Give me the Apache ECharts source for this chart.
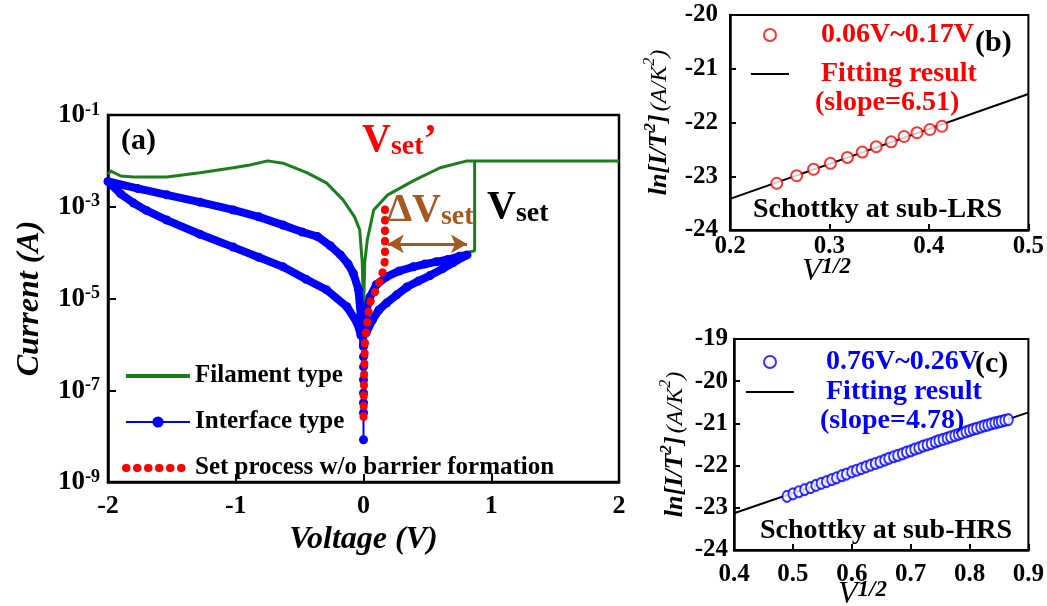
<!DOCTYPE html>
<html>
<head>
<meta charset="utf-8">
<script src="https://cdn.jsdelivr.net/npm/echarts@6/dist/echarts.min.js"></script>
<style>
  html, body { margin: 0; padding: 0; background: #fff; }
  #chart { width: 1047px; height: 606px; }
</style>
</head>
<body>
<div id="chart"></div>
<script>
// ---- data (a): I-V curves, current as log10(I / A) ----
var filamentV =    [0.81, 0.87, 0.87, 2.0, 0.81, 0.6, 0.4, 0.19, 0.08, 0.03, 0.01, 0.0, -0.01, -0.03, -0.07, -0.16, -0.29, -0.44, -0.63, -0.75, -0.89, -1.02, -1.28, -1.54, -1.8, -1.9, -1.98, -2.0];
var filamentLogI = [-4.0, -3.96, -2.0, -2.0, -2.0, -2.15, -2.42, -2.74, -3.07, -3.72, -4.2, -5.3, -4.2, -3.5, -3.22, -2.85, -2.48, -2.26, -2.05, -2.0, -2.09, -2.15, -2.26, -2.35, -2.35, -2.33, -2.22, -2.3];

var interfaceV =    [0.02, 0.07, 0.12, 0.18, 0.26, 0.34, 0.43, 0.52, 0.62, 0.70, 0.81, 0.75, 0.66, 0.57, 0.48, 0.39, 0.28, 0.18, 0.1, 0.05, 0.02, 0.0,
                     -0.02, -0.05, -0.13, -0.29, -0.45, -0.63, -0.82, -1.02, -1.28, -1.54, -1.7, -1.8, -1.9, -2.0,
                     -1.77, -1.54, -1.28, -1.02, -0.82, -0.63, -0.48, -0.36, -0.26, -0.18, -0.12, -0.08, -0.04, -0.02, 0.0];
var interfaceLogI = [-5.75, -5.47, -5.25, -5.1, -4.92, -4.75, -4.62, -4.5, -4.35, -4.22, -4.05, -4.08, -4.15, -4.2, -4.25, -4.31, -4.4, -4.53, -4.7, -4.97, -5.3, -5.7,
                     -5.8, -5.53, -5.18, -4.81, -4.58, -4.31, -4.1, -3.88, -3.6, -3.29, -3.08, -2.92, -2.72, -2.45,
                     -2.6, -2.74, -2.9, -3.07, -3.22, -3.4, -3.55, -3.65, -3.85, -4.05, -4.25, -4.45, -4.8, -5.4, -6.0];
var tailV =    [0.0, 0.0, 0.0, 0.0, 0.0, 0.0, 0.0, 0.0, 0.0];
var tailLogI = [-8.08, -7.49, -7.27, -7.06, -6.77, -6.49, -6.27, -6.05, -5.8];

var setV =    [0.0, 0.005, 0.012, 0.027, 0.035, 0.05, 0.09, 0.13, 0.155, 0.168, 0.168];
var setLogI = [-7.58, -6.62, -5.86, -5.62, -5.36, -5.10, -4.86, -4.60, -4.38, -4.16, -2.90];

// ---- data (b): Schottky fit at sub-LRS ----
var lrsX = [0.247, 0.267, 0.284, 0.301, 0.318, 0.333, 0.347, 0.362, 0.375, 0.388, 0.401, 0.413];
var lrsY = [-23.13, -22.99, -22.87, -22.76, -22.65, -22.55, -22.45, -22.36, -22.26, -22.19, -22.13, -22.07];
var lrsFitX = [0.2, 0.5];
var lrsFitY = [-23.42, -21.47];

// ---- data (c): Schottky fit at sub-HRS ----
var hrsX = [0.490, 0.500, 0.510, 0.520, 0.530, 0.539, 0.548, 0.557, 0.566, 0.574, 0.583, 0.591, 0.600, 0.608, 0.616, 0.624, 0.632, 0.640,
            0.648, 0.656, 0.663, 0.671, 0.678, 0.686, 0.693, 0.700, 0.707, 0.714, 0.721, 0.728, 0.735, 0.742, 0.748, 0.755, 0.762, 0.768,
            0.775, 0.781, 0.787, 0.794, 0.800, 0.806, 0.812, 0.819, 0.825, 0.831, 0.837, 0.843, 0.849, 0.854, 0.860, 0.866];
var hrsY = [-22.73, -22.67, -22.62, -22.57, -22.52, -22.47, -22.42, -22.38, -22.33, -22.29, -22.24, -22.20, -22.15, -22.11, -22.07, -22.03, -21.99, -21.95,
            -21.91, -21.87, -21.83, -21.79, -21.76, -21.72, -21.68, -21.65, -21.61, -21.58, -21.54, -21.51, -21.48, -21.44, -21.41, -21.38, -21.35, -21.32,
            -21.29, -21.26, -21.23, -21.20, -21.17, -21.14, -21.12, -21.09, -21.06, -21.04, -21.01, -20.99, -20.97, -20.95, -20.93, -20.91];
var hrsFitX = [0.4, 0.9];
var hrsFitY = [-23.13, -20.74];

var FONT = "'Liberation Serif', 'Times New Roman', serif";
var RED = '#ff0000', BLUE = '#0000ff', GREEN = '#1b7d1b', BROWN = '#a5581f';

function pairs(xs, ys) {
  return xs.map(function (x, i) { return [x, ys[i]]; });
}

function axisBase(grid, min, max, interval, fontSize, margin) {
  return {
    type: 'value', gridIndex: grid, min: min, max: max, interval: interval,
    axisLine: { show: true, onZero: false, lineStyle: { color: '#000', width: 2.5 } },
    axisTick: { show: true, inside: true, length: 6, lineStyle: { color: '#000', width: 2 } },
    splitLine: { show: false },
    axisLabel: { color: '#000', fontFamily: FONT, fontWeight: 'bold', fontSize: fontSize, margin: margin }
  };
}

var lnName = '{a|ln[I/T}{as|2}{a|]} {c|(A/K}{cs|2}{c|)}';
var lnRich = {
  a: { fontFamily: FONT, fontSize: 26, fontWeight: 'bold', fontStyle: 'italic', color: '#000', lineHeight: 30, verticalAlign: 'bottom' },
  as: { fontFamily: FONT, fontSize: 17, fontWeight: 'bold', fontStyle: 'italic', color: '#000', lineHeight: 16, verticalAlign: 'top' },
  c: { fontFamily: FONT, fontSize: 24, fontStyle: 'italic', color: '#000', lineHeight: 30, verticalAlign: 'bottom' },
  cs: { fontFamily: FONT, fontSize: 16, fontStyle: 'italic', color: '#000', lineHeight: 16, verticalAlign: 'top' }
};

var xa = axisBase(0, -2, 2, 1, 26, 11);
xa.axisTick.length = 8;
xa.name = 'Voltage (V)';
xa.nameLocation = 'middle';
xa.nameGap = 29;
xa.nameTextStyle = { fontFamily: FONT, fontSize: 32, fontWeight: 'bold', fontStyle: 'italic', color: '#000' };

var ya = axisBase(0, -9, -1, 2, 26, 8);
ya.axisTick.length = 8;
ya.axisLabel.formatter = function (v) { return '{b|10}{s|' + v + '}'; };
ya.axisLabel.rich = {
  b: { fontFamily: FONT, fontWeight: 'bold', fontSize: 27, color: '#000', lineHeight: 28, verticalAlign: 'bottom' },
  s: { fontFamily: FONT, fontWeight: 'bold', fontSize: 18, color: '#000', lineHeight: 17, verticalAlign: 'top' }
};
ya.name = 'Current (A)';
ya.nameLocation = 'middle';
ya.nameRotate = 90;
ya.nameGap = 62;
ya.nameTextStyle = { fontFamily: FONT, fontSize: 32, fontWeight: 'bold', fontStyle: 'italic', color: '#000' };

var xb = axisBase(1, 0.2, 0.5, 0.1, 25, 4);
xb.axisLabel.formatter = function (v) { return v.toFixed(1); };
var yb = axisBase(1, -24, -20, 1, 25, 12);
yb.name = lnName;
yb.nameLocation = 'middle';
yb.nameRotate = 90;
yb.nameGap = 58;
yb.nameTextStyle = { rich: lnRich };

var xc = axisBase(2, 0.4, 0.9, 0.1, 25, 12);
xc.axisLabel.formatter = function (v) { return v.toFixed(1); };
var yc = axisBase(2, -24, -19, 1, 25, 6);
yc.name = lnName;
yc.nameLocation = 'middle';
yc.nameRotate = 90;
yc.nameGap = 46;
yc.nameTextStyle = { rich: lnRich };

function subText(left, top, color, big, sub, tail) {
  return {
    type: 'text', left: left, top: top, z: 100,
    style: {
      text: '{V|' + big + '}{s|' + sub + '}' + (tail ? '{V|' + tail + '}' : ''),
      rich: {
        V: { fontFamily: FONT, fontWeight: 'bold', fontSize: 40, fill: color, lineHeight: 44, verticalAlign: 'bottom' },
        s: { fontFamily: FONT, fontWeight: 'bold', fontSize: 28, fill: color, lineHeight: 8, verticalAlign: 'bottom' }
      }
    }
  };
}

function plainText(left, top, text, color, size) {
  return {
    type: 'text', left: left, top: top, z: 100,
    style: { text: text, fill: color, font: 'bold ' + size + 'px ' + FONT }
  };
}

function halfPower(left, top) {
  return {
    type: 'text', left: left, top: top, z: 100,
    style: {
      text: '{v|V}{s|1/2}',
      rich: {
        v: { fontFamily: FONT, fontStyle: 'italic', fontSize: 32, fill: '#000', lineHeight: 32, verticalAlign: 'bottom' },
        s: { fontFamily: FONT, fontStyle: 'italic', fontWeight: 'bold', fontSize: 23, fill: '#000', lineHeight: 22, verticalAlign: 'top' }
      }
    }
  };
}

function legendRich(color, size, pad) {
  return {
    rich: { t: { fontFamily: FONT, fontWeight: 'bold', fontSize: size, color: color, lineHeight: 28, padding: [0, 0, 0, pad] } }
  };
}

var noSymbol = { opacity: 0 };

var option = {
  animation: false,
  backgroundColor: '#fff',
  grid: [
    { left: 108, top: 115, width: 511, height: 367, show: true, borderColor: '#000', borderWidth: 2.5 },
    { left: 730, top: 15, width: 300, height: 215, show: true, borderColor: '#000', borderWidth: 2 },
    { left: 734, top: 339, width: 297, height: 211, show: true, borderColor: '#000', borderWidth: 2 }
  ],
  xAxis: [xa, xb, xc],
  yAxis: [ya, yb, yc],
  legend: [
    {
      orient: 'vertical', left: 117, top: 357, itemWidth: 64, itemHeight: 14, itemGap: 18,
      data: [
        { name: 'Filament type', lineStyle: { width: 4 }, itemStyle: noSymbol },
        { name: 'Interface type' },
        { name: 'Set process w/o barrier formation', lineStyle: { width: 8, type: [0.5, 10.5], cap: 'round' }, itemStyle: noSymbol }
      ],
      textStyle: { fontFamily: FONT, fontWeight: 'bold', fontSize: 25, color: '#000', lineHeight: 28 }
    },
    {
      orient: 'vertical', left: 745, top: 16, itemWidth: 38, itemHeight: 12, itemGap: 11,
      data: ['0.06V~0.17V', { name: 'Fitting result', itemStyle: noSymbol }],
      formatter: function (n) { return '{t|' + n + '}'; },
      textStyle: legendRich(RED, 28, 27)
    },
    {
      orient: 'vertical', left: 740, top: 343, itemWidth: 48, itemHeight: 12, itemGap: 2,
      data: ['0.76V~0.26V', { name: 'Fitting result', itemStyle: noSymbol }],
      formatter: function (n) { return '{t|' + n + '}'; },
      textStyle: legendRich(BLUE, 28, 27)
    }
  ],
  series: [
    {
      name: 'Filament type', type: 'line', xAxisIndex: 0, yAxisIndex: 0, z: 2,
      data: pairs(filamentV, filamentLogI), symbol: 'none',
      lineStyle: { color: GREEN, width: 3 }, itemStyle: { color: GREEN }
    },
    {
      name: 'Interface type', type: 'line', xAxisIndex: 0, yAxisIndex: 0, z: 3,
      data: pairs(tailV, tailLogI), symbol: 'circle', symbolSize: 9, showSymbol: true,
      lineStyle: { color: BLUE, width: 2 }, itemStyle: { color: BLUE }
    },
    {
      name: 'Interface type', type: 'line', xAxisIndex: 0, yAxisIndex: 0, z: 3,
      data: pairs(interfaceV, interfaceLogI), symbol: 'circle', symbolSize: 9, showSymbol: true,
      lineStyle: { color: BLUE, width: 8, join: 'round', cap: 'round' }, itemStyle: { color: BLUE }
    },
    {
      name: 'Set process w/o barrier formation', type: 'line', xAxisIndex: 0, yAxisIndex: 0, z: 4,
      data: pairs(setV, setLogI), symbol: 'none',
      lineStyle: { color: RED, width: 8, type: [0.5, 10], cap: 'round' }, itemStyle: { color: RED },
      markLine: {
        silent: true, symbol: ['arrow', 'arrow'], symbolSize: [14, 16],
        label: { show: false },
        lineStyle: { color: BROWN, width: 3, type: 'solid', cap: 'butt' },
        data: [[{ coord: [0.19, -3.81] }, { coord: [0.81, -3.81] }]]
      }
    },
    {
      name: 'Fitting result', type: 'line', xAxisIndex: 1, yAxisIndex: 1, z: 2,
      data: pairs(lrsFitX, lrsFitY), symbol: 'none',
      lineStyle: { color: '#000', width: 2 }, itemStyle: { color: '#000' }
    },
    {
      name: '0.06V~0.17V', type: 'scatter', xAxisIndex: 1, yAxisIndex: 1, z: 3,
      data: pairs(lrsX, lrsY), symbol: 'emptyCircle', symbolSize: 11,
      itemStyle: { color: RED, borderColor: RED, borderWidth: 1.5 }
    },
    {
      name: 'Fitting result', type: 'line', xAxisIndex: 2, yAxisIndex: 2, z: 2,
      data: pairs(hrsFitX, hrsFitY), symbol: 'none',
      lineStyle: { color: '#000', width: 2 }, itemStyle: { color: '#000' }
    },
    {
      name: '0.76V~0.26V', type: 'scatter', xAxisIndex: 2, yAxisIndex: 2, z: 3,
      data: pairs(hrsX, hrsY), symbol: 'emptyCircle', symbolSize: [9, 11],
      itemStyle: { color: BLUE, borderColor: BLUE, borderWidth: 1.5 }
    }
  ],
  graphic: [
    plainText(121, 126, '(a)', '#000', 30),
    subText(362, 121, RED, 'V', 'set', '\u2019'),
    subText(387, 191, BROWN, '\u0394V', 'set'),
    subText(487, 188, '#000', 'V', 'set'),
    plainText(815, 89, '(slope=6.51)', RED, 28),
    plainText(975, 28, '(b)', '#000', 30),
    plainText(753, 196, 'Schottky at sub-LRS', '#000', 28),
    halfPower(802, 256),
    plainText(820, 407, '(slope=4.78)', BLUE, 28),
    plainText(975, 349, '(c)', '#000', 30),
    plainText(760, 517, 'Schottky at sub-HRS', '#000', 28),
    halfPower(838, 579)
  ]
};

var chart = echarts.init(document.getElementById('chart'));
chart.setOption(option);
</script>
</body>
</html>
